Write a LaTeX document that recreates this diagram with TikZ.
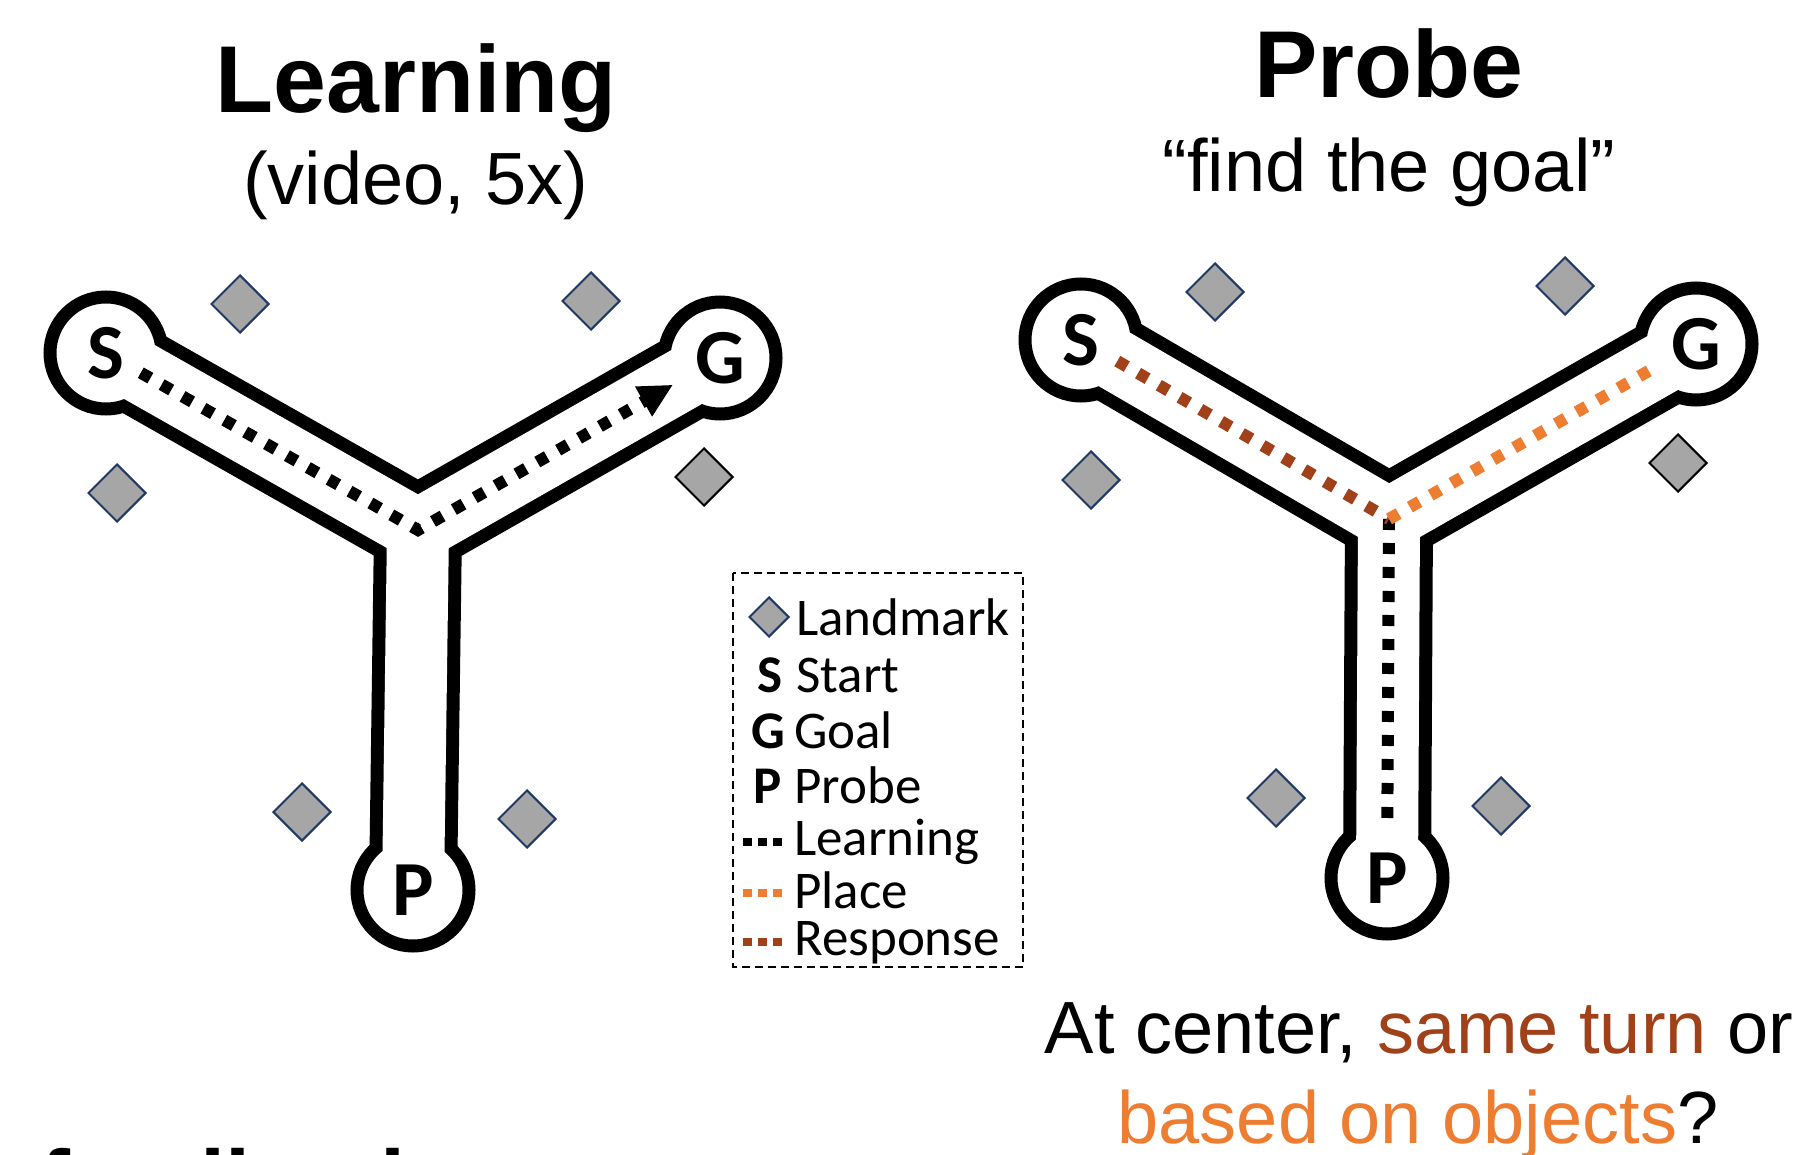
\documentclass[tikz,border=0pt]{standalone}
\usepackage{fontspec}
\setmainfont{Liberation Sans}
\newfontfamily\calibri{Carlito}
\usetikzlibrary{arrows.meta}
\usetikzlibrary{shapes.geometric}
\usetikzlibrary{positioning}
\definecolor{landmarkgray}{HTML}{A6A6A6}
\definecolor{landmarkline}{HTML}{1F3864}
\definecolor{placeorange}{HTML}{ED7D31}
\definecolor{responsebrown}{HTML}{A0411A}
\tikzset{
  every picture/.style={x=1pt, y=-1pt, >={Triangle[length=34pt, width=32pt]}},
  every node/.style={inner sep=0pt}}

\begin{document}
\begin{tikzpicture}[
    wallout/.style={line width=88pt, black},
    wallin/.style={line width=62pt, white},
    station/.style={circle, draw=black, line width=13pt, fill=white, minimum size=112pt,
      font={\calibri\bfseries\fontsize{78}{78}\selectfont}},
    landmark/.style={diamond, draw=landmarkline, line width=2pt, fill=landmarkgray, minimum size=58pt},
    darkmark/.style={landmark, draw=black},
    route/.style={line width=12pt, dash pattern=on 11pt off 13pt},
    title/.style={font={\bfseries\fontsize{95}{95}\selectfont}, anchor=base},
    subtitle/.style={font={\fontsize{74}{74}\selectfont}, anchor=base},
    question/.style={font={\fontsize{74}{74}\selectfont}, anchor=base},
    keybox/.style={draw, line width=2pt, dash pattern=on 8pt off 5pt},
    key/.style={font={\calibri\fontsize{53}{53}\selectfont}, anchor=base west},
    keyletter/.style={font={\calibri\bfseries\fontsize{53}{53}\selectfont}, anchor=base},
    keyroute/.style={line width=8pt, dash pattern=on 9pt off 6pt}]

  \path[use as bounding box, clip] (0,0) rectangle (1800,1155);

  \node[title] (learn) at (416,113) {Learning};
  \node[subtitle] (video) at (416,205) {(video, 5x)};
  \node[title] (probe) at (1389,98) {Probe};
  \node[subtitle] (find) at (1389,192) {``find the goal''};

  \begin{scope}
    \coordinate (LJ) at (418,530);
    \coordinate (LS) at (106,353);
    \coordinate (LG) at (720,358);
    \coordinate (LP) at (413,890);
    \draw[wallout] (LS) -- (LJ) -- (LG) (LJ) -- (LP);
    \node[station] (S1) at (LS) {S};
    \node[station] (G1) at (LG) {G};
    \node[station] (P1) at (LP) {P};
    \draw[wallin, shorten <=38pt, shorten >=38pt] (S1.center) -- (LJ) -- (G1.center);
    \draw[wallin, shorten >=38pt] (LJ) -- (P1.center);

    \node[landmark] (LA) at (240,304) {};
    \node[landmark] (LB) at (591,301) {};
    \node[landmark] (LC) at (117,493) {};
    \node[darkmark] (LD) at (704,477) {};
    \node[landmark] (LE) at (302,812) {};
    \node[landmark] (LF) at (527,819) {};

    \draw[route, ->, shorten <=40pt, shorten >=54pt] (S1.center) -- (LJ) -- (G1.center);
  \end{scope}

  \begin{scope}
    \coordinate (RJ) at (1389,519);
    \coordinate (RS) at (1081,340);
    \coordinate (RG) at (1696,344);
    \coordinate (RP) at (1387,878);
    \draw[wallout] (RS) -- (RJ) -- (RG) (RJ) -- (RP);
    \node[station] (S2) at (RS) {S};
    \node[station] (G2) at (RG) {G};
    \node[station] (P2) at (RP) {P};
    \draw[wallin, shorten <=38pt, shorten >=38pt] (S2.center) -- (RJ) -- (G2.center);
    \draw[wallin, shorten >=38pt] (RJ) -- (P2.center);

    \node[landmark] (RA) at (1215,292) {};
    \node[landmark] (RB) at (1565,286) {};
    \node[landmark] (RC) at (1091,480) {};
    \node[darkmark] (RD) at (1678,463) {};
    \node[landmark] (RE) at (1276,798) {};
    \node[landmark] (RF) at (1501,806) {};

    \draw[route, shorten >=56pt] (RJ) -- (P2.center);
    \draw[route, responsebrown, shorten <=42pt] (S2.center) -- (RJ);
    \draw[route, placeorange, shorten >=42pt] (RJ) -- (G2.center);
  \end{scope}

  \draw[keybox] (733,573) rectangle (1023,967);
  \node[landmark, minimum size=40pt] (keyA) at (769,617) {};
  \node[key] (keyAt) at (796,635) {Landmark};
  \node[keyletter] (keyS) at (770,692) {S};
  \node[key] (keySt) at (796,692) {Start};
  \node[keyletter] (keyG) at (768,748) {G};
  \node[key] (keyGt) at (794,748) {Goal};
  \node[keyletter] (keyP) at (768,803) {P};
  \node[key] (keyPt) at (794,803) {Probe};
  \draw[keyroute] (743,842) -- (784,842);
  \node[key] (keyLt) at (794,855) {Learning};
  \draw[keyroute, placeorange] (743,893) -- (784,893);
  \node[key] (keyPl) at (794,908) {Place};
  \draw[keyroute, responsebrown] (743,942) -- (784,942);
  \node[key] (keyRe) at (794,955) {Response};

  \node[question] (ask) at (1419,1053) {At center, \textcolor{responsebrown}{same turn} or};
  \node[question] (ask2) at (1418,1143) {\textcolor{placeorange}{based on objects}?};

  \node[title, anchor=base west, font={\bfseries\fontsize{90}{90}\selectfont}] (next) at (40,1213) {feedback};
\end{tikzpicture}
\end{document}
